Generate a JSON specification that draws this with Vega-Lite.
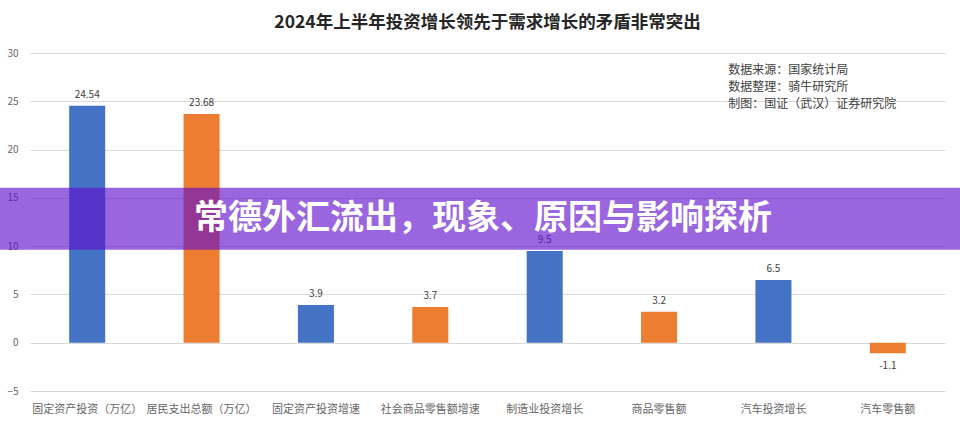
{
  "$schema": "https://vega.github.io/schema/vega-lite/v6.json",
  "width": 915,
  "height": 338,
  "autosize": {"type": "none"},
  "padding": {"left": 30, "top": 53, "right": 15, "bottom": 48},
  "background": "white",
  "title": {
    "text": "2024年上半年投资增长领先于需求增长的矛盾非常突出",
    "fontSize": 17.5,
    "fontWeight": "bold",
    "color": "#262626",
    "anchor": "middle",
    "offset": 17
  },
  "config": {
    "view": {"stroke": null},
    "font": "Noto Sans CJK SC"
  },
  "datasets": {
    "bars": [
      {"item": "固定资产投资（万亿）", "value": 24.54, "kind": "投资"},
      {"item": "居民支出总额（万亿）", "value": 23.68, "kind": "需求"},
      {"item": "固定资产投资增速", "value": 3.9, "kind": "投资"},
      {"item": "社会商品零售额增速", "value": 3.7, "kind": "需求"},
      {"item": "制造业投资增长", "value": 9.5, "kind": "投资"},
      {"item": "商品零售额", "value": 3.2, "kind": "需求"},
      {"item": "汽车投资增长", "value": 6.5, "kind": "投资"},
      {"item": "汽车零售额", "value": -1.1, "kind": "需求"}
    ],
    "banner": [
      {"left": -0.033, "right": 1.017, "top": 16.05, "bottom": 9.62, "mid": 12.85, "center": 0.495, "label": "常德外汇流出，现象、原因与影响探析"}
    ],
    "notes": [
      {"pos": 0.763, "level": 28.2, "line": "数据来源：国家统计局"},
      {"pos": 0.763, "level": 26.45, "line": "数据整理：骑牛研究所"},
      {"pos": 0.763, "level": 24.7, "line": "制图：国证（武汉）证券研究院"}
    ]
  },
  "layer": [
    {
      "data": {"name": "bars"},
      "encoding": {
        "x": {
          "field": "item",
          "type": "nominal",
          "sort": null,
          "title": null,
          "scale": {"paddingInner": 0.685, "paddingOuter": 0.3425},
          "axis": {
            "labelAngle": 0,
            "labelFontSize": 11,
            "labelColor": "#666666",
            "labelPadding": 12,
            "domain": false,
            "ticks": false
          }
        },
        "y": {
          "field": "value",
          "type": "quantitative",
          "title": null,
          "scale": {"domain": [-5, 30], "nice": false},
          "axis": {
            "values": [-5, 0, 5, 10, 15, 20, 25, 30],
            "domain": false,
            "ticks": false,
            "labelFontSize": 10,
            "labelColor": "#666666",
            "labelPadding": 12,
            "gridColor": "#d9d9d9"
          }
        }
      },
      "layer": [
        {
          "mark": {"type": "bar"},
          "encoding": {
            "color": {
              "field": "kind",
              "type": "nominal",
              "scale": {"domain": ["投资", "需求"], "range": ["#4472c4", "#ed7d31"]},
              "legend": null
            }
          }
        },
        {
          "transform": [{"filter": "datum.value >= 0"}],
          "mark": {"type": "text", "baseline": "bottom", "dy": -6, "fontSize": 10, "color": "#404040"},
          "encoding": {"text": {"field": "value", "type": "quantitative"}}
        },
        {
          "transform": [{"filter": "datum.value < 0"}],
          "mark": {"type": "text", "baseline": "top", "dy": 8, "fontSize": 10, "color": "#404040"},
          "encoding": {"text": {"field": "value", "type": "nominal"}}
        }
      ]
    },
    {
      "data": {"name": "banner"},
      "encoding": {
        "x": {"field": "left", "type": "quantitative", "scale": {"domain": [0, 1], "nice": false, "zero": false}, "axis": null}
      },
      "layer": [
        {
          "mark": {"type": "rect", "color": "#5f0dce", "opacity": 0.63},
          "encoding": {
            "x2": {"field": "right"},
            "y": {"field": "top", "type": "quantitative"},
            "y2": {"field": "bottom"}
          }
        },
        {
          "mark": {"type": "text", "fontSize": 34, "fontWeight": "bold", "color": "white", "align": "center", "baseline": "middle"},
          "encoding": {
            "x": {"field": "center", "type": "quantitative"},
            "y": {"field": "mid", "type": "quantitative"},
            "text": {"field": "label"}
          }
        },
        {
          "data": {"name": "notes"},
          "mark": {"type": "text", "fontSize": 12, "color": "#404040", "align": "left", "baseline": "middle"},
          "encoding": {
            "x": {"field": "pos", "type": "quantitative"},
            "y": {"field": "level", "type": "quantitative"},
            "text": {"field": "line"}
          }
        }
      ]
    }
  ],
  "resolve": {"scale": {"x": "independent"}}
}
